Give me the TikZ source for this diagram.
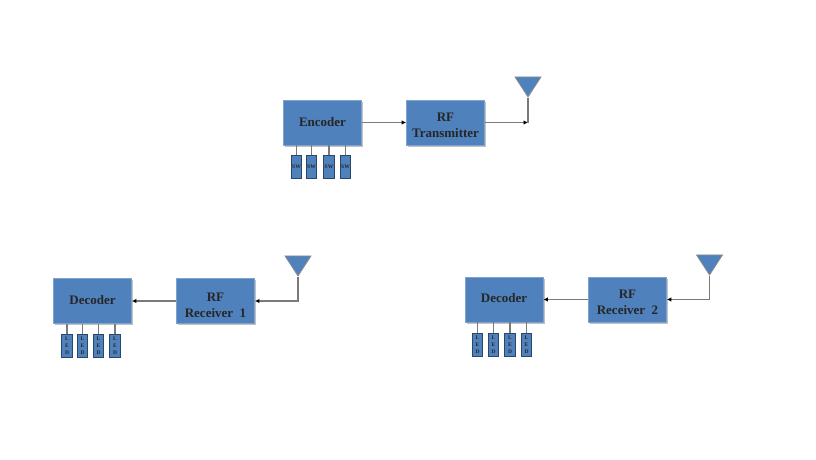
\documentclass[tikz,border=0pt]{standalone}
\usepackage{fontspec}
\setmainfont{Liberation Serif}
\usetikzlibrary{arrows.meta,shapes.geometric,shadows}
\definecolor{boxblue}{HTML}{4F81BD}
\definecolor{boxedge}{HTML}{7FA3CE}
\definecolor{wiregray}{HTML}{7A7A7A}
\tikzset{
  blockbox/.style={rectangle, draw=boxedge, fill=boxblue, line width=.8pt, minimum width=78pt, minimum height=45pt,
    inner sep=0pt, align=center, font=\fontsize{13}{16}\selectfont\bfseries, text=black!85,
    drop shadow={shadow xshift=1.5pt, shadow yshift=-1.5pt, fill=black!30, opacity=.8}},
  tinybox/.style={rectangle, draw=boxblue!55!black, fill=boxblue, line width=1pt, minimum width=10.5pt, minimum height=23pt,
    inner sep=0pt, align=center, text=black!85},
  swbox/.style={tinybox, font=\fontsize{5.5}{6}\selectfont\bfseries},
  ledbox/.style={tinybox, font=\fontsize{5.5}{7}\selectfont\bfseries},
  antenna/.style={isosceles triangle, isosceles triangle stretches, shape border rotate=270, draw=black!45, fill=boxblue,
    line width=.8pt, minimum width=26pt, minimum height=20pt, inner sep=0pt, anchor=apex},
  wire/.style={draw=wiregray, line width=1.3pt},
  arrowwire/.style={wire, -{Latex[black,length=4.5pt,width=4.5pt]}}
}
\begin{document}
\begin{tikzpicture}[x=1pt,y=-1pt]
      \useasboundingbox (0,0) rectangle (816,460);

      % transmitter
      \begin{scope}[every node/.style={blockbox}]
        \node (encoder) at (322.5,122.5) {Encoder};
        \node (transmitter) at (445.5,122.5) {\rule{0pt}{15pt}RF\\Transmitter};
      \end{scope}
      \node[antenna] (txant) at (528,98) {};
      \coordinate (txjoin) at (528,122.5);
      \begin{scope}[every node/.style={swbox}]
        \node (sw1) at (296.5,167) {SW};
        \node (sw2) at (311.5,167) {SW};
        \node (sw3) at (329,167) {SW};
        \node (sw4) at (345.5,167) {SW};
      \end{scope}

      % receiver 1
      \begin{scope}[every node/.style={blockbox}]
        \node (decoderA) at (92.5,301) {\raisebox{2pt}{Decoder}};
        \node (receiverA) at (215.5,301) {\rule{0pt}{17pt}RF\\Receiver\ \ 1};
      \end{scope}
      \node[antenna] (rxantA) at (298,277) {};
      \begin{scope}[every node/.style={ledbox}]
        \node (ledA1) at (67,346) {L\\E\\D};
        \node (ledA2) at (82.5,346) {L\\E\\D};
        \node (ledA3) at (98.5,346) {L\\E\\D};
        \node (ledA4) at (115,346) {L\\E\\D};
      \end{scope}

      % receiver 2
      \begin{scope}[every node/.style={blockbox}]
        \node (decoderB) at (504,299.5) {\raisebox{3pt}{Decoder}};
        \node (receiverB) at (627.5,299.5) {\rule{0pt}{15pt}RF\\Receiver\ \ 2};
      \end{scope}
      \node[antenna] (rxantB) at (709.5,276) {};
      \begin{scope}[every node/.style={ledbox}]
        \node (ledB1) at (477.5,344.5) {L\\E\\D};
        \node (ledB2) at (493.5,344.5) {L\\E\\D};
        \node (ledB3) at (510,344.5) {L\\E\\D};
        \node (ledB4) at (526.5,344.5) {L\\E\\D};
      \end{scope}

      % connectors
      \path[arrowwire] (encoder) -- (transmitter);
      \path[arrowwire] (transmitter) -- (txjoin);
      \path[wire] (txant.apex) -- (txjoin);
      \path[arrowwire] (receiverA) -- (decoderA);
      \path[arrowwire] (rxantA.apex) |- (receiverA);
      \path[arrowwire] (receiverB) -- (decoderB);
      \path[arrowwire] (rxantB.apex) |- (receiverB);
      \foreach \n in {1,2,3,4} {
        \path[wire] (sw\n.north) -- (sw\n.north |- encoder.south);
        \path[wire] (ledA\n.north) -- (ledA\n.north |- decoderA.south);
        \path[wire] (ledB\n.north) -- (ledB\n.north |- decoderB.south);
      }

    \end{tikzpicture}
\end{document}
